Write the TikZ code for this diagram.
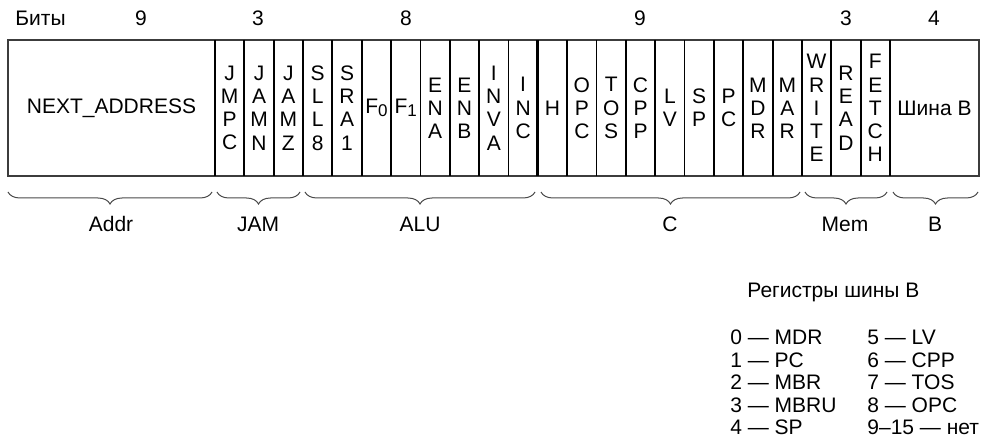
\documentclass[tikz,border=0pt]{standalone}
\usepackage{fontspec}
\setmainfont{Liberation Sans}
\usetikzlibrary{decorations.pathreplacing,positioning}
\definecolor{framegray}{HTML}{3C3C3C}
\definecolor{bracegray}{HTML}{4A4A4A}
\newcommand{\fsub}[1]{\raisebox{-0.3ex}{\fontsize{8.5}{8.5}\selectfont#1}}
\tikzset{
  fieldtxt/.style={font=\fontsize{10.5}{11.6}\selectfont,align=center,inner sep=0pt},
  plaintxt/.style={font=\fontsize{10.5}{12}\selectfont,inner sep=0pt},
  groupbrace/.style={decorate,decoration={brace,mirror,amplitude=6pt},line width=0.5pt,bracegray},
  celldiv/.style={line width=0.9pt},
  groupdiv/.style={line width=1.4pt}
}
\begin{document}
\begin{tikzpicture}[x=0.5pt,y=-0.5pt]
  \useasboundingbox (0,0) rectangle (982,444);
  \pgfmathsetmacro{\cw}{(890-215)/23}
  % word frame and cell borders
  \draw[line width=0.6pt,framegray] (8,40) rectangle (979,176);
  \foreach \k in {1,2,4,5,6,7,8,9,10,12,13,14,15,16,17,18,19,21,22}{\draw[celldiv] ({215+\k*\cw},40) -- ({215+\k*\cw},176);}
  \foreach \k in {0,3,11,20,23}{\draw[groupdiv] ({215+\k*\cw},40) -- ({215+\k*\cw},176);}
  % field names
  \node[fieldtxt] (nextaddr) at (111.5,108) {NEXT\_ADDRESS};
  \foreach \lbl [count=\i] in {{J\\M\\P\\C},{J\\A\\M\\N},{J\\A\\M\\Z},{S\\L\\L\\8},{S\\R\\A\\1},{F\fsub{0}},{F\fsub{1}},{E\\N\\A},{E\\N\\B},{I\\N\\V\\A},{I\\N\\C},{H},{O\\P\\C},{T\\O\\S},{C\\P\\P},{L\\V},{S\\P},{P\\C},{M\\D\\R},{M\\A\\R},{W\\R\\I\\T\\E},{R\\E\\A\\D},{F\\E\\T\\C\\H}}{\node[fieldtxt] (cell\i) at ({215+(\i-0.5)*\cw},108) {\lbl};}
  \node[fieldtxt] (busb) at (934.5,108) {Шина B};
  % bit counts
  \node[plaintxt,anchor=base west] (bitshead) at (15,26) {Биты};
  \foreach \n/\xx [count=\i] in {9/141,3/258,8/406,9/640,3/846,4/934}{\node[plaintxt,anchor=base] (bits\i) at (\xx,26) {\n};}
  % groups
  \foreach \a/\b/\lbl/\xx [count=\i] in {8/212/Addr/111,217/300/JAM/258,305/535/ALU/420,541/800/C/670,805/887/Mem/845,893/978/B/935}{
    \draw[groupbrace] (\a,192) -- (\b,192);
    \node[plaintxt,anchor=base] (group\i) at (\xx,232) {\lbl};}
  % B bus registers
  \node[plaintxt,anchor=base west] (busregs) at (747,298) {Регистры шины B};
  \foreach \lft/\rgt [count=\i] in {0 — MDR/5 — LV,1 — PC/6 — CPP,2 — MBR/7 — TOS,3 — MBRU/8 — OPC,4 — SP/9–15 — нет}{
    \node[plaintxt,anchor=base west] (regl\i) at (730,{345+(\i-1)*22.5}) {\lft};
    \node[plaintxt,anchor=base west] (regr\i) at (867,{345+(\i-1)*22.5}) {\rgt};}
\end{tikzpicture}
\end{document}
